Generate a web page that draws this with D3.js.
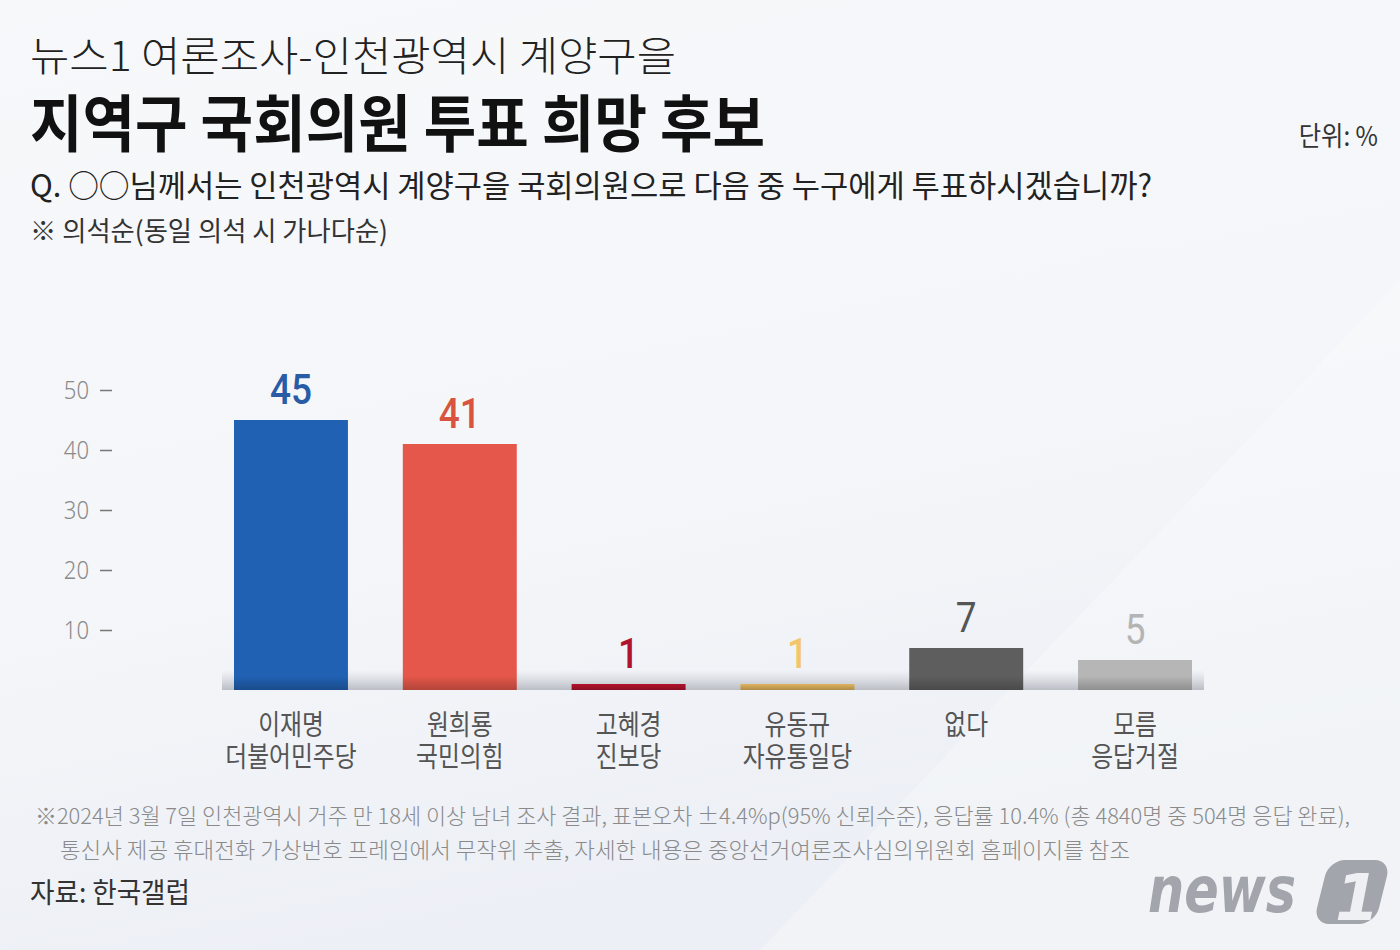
<!DOCTYPE html>
<html>
<head>
<meta charset="utf-8">
<script src="https://cdn.jsdelivr.net/npm/d3@7"></script>
<style>
  body { margin: 0; background: #f6f7fa; }
  svg { display: block; font-family: "Noto Sans CJK KR", "Noto Sans", sans-serif; }
</style>
</head>
<body>
<svg id="chart"></svg>
<script>
const names = ["이재명", "원희룡", "고혜경", "유동규", "없다", "모름"];
const parties = ["더불어민주당", "국민의힘", "진보당", "자유통일당", "", "응답거절"];
const values = [45, 41, 1, 1, 7, 5];
const barColors = ["#2161b3", "#e5574a", "#b1122b", "#e0b35c", "#5e5e5e", "#b6b6b6"];
const labelColors = ["#2a5ca6", "#d8543f", "#b0142c", "#f3c66c", "#555555", "#b4b4b4"];
const yTicks = [10, 20, 30, 40, 50];

const width = 1400;
const height = 950;
const margin = { top: 390, right: 208, bottom: 260, left: 234 };

const svg = d3.select("#chart").attr("width", width).attr("height", height);

// shrink a text to a given share of its natural width (the original uses a narrow face)
const condense = (sel, k) =>
  sel.each(function () {
    const len = this.getComputedTextLength();
    if (len > 0) d3.select(this).attr("textLength", len * k).attr("lengthAdjust", "spacingAndGlyphs");
  });

// background
const defs = svg.append("defs");
const bg = defs.append("linearGradient").attr("id", "bg").attr("x1", 0).attr("y1", 0).attr("x2", 0.3).attr("y2", 1);
bg.append("stop").attr("offset", "0%").attr("stop-color", "#f7f8fa");
bg.append("stop").attr("offset", "60%").attr("stop-color", "#f4f6f9");
bg.append("stop").attr("offset", "100%").attr("stop-color", "#eceff5");
svg.append("rect").attr("width", width).attr("height", height).attr("fill", "url(#bg)");
svg.append("path")
  .attr("d", "M1400,280 L1400,950 L760,950 Z")
  .attr("fill", "#ffffff").attr("opacity", 0.25);

const shade = defs.append("linearGradient").attr("id", "shade").attr("x1", 0).attr("y1", 0).attr("x2", 0).attr("y2", 1);
shade.append("stop").attr("offset", "0%").attr("stop-color", "#d4d7dc").attr("stop-opacity", 0);
shade.append("stop").attr("offset", "70%").attr("stop-color", "#c9ccd2").attr("stop-opacity", 0.9);
shade.append("stop").attr("offset", "100%").attr("stop-color", "#b9bdc4").attr("stop-opacity", 1);

const barShade = defs.append("linearGradient").attr("id", "barShade").attr("x1", 0).attr("y1", 0).attr("x2", 0).attr("y2", 1);
barShade.append("stop").attr("offset", "0%").attr("stop-color", "#000").attr("stop-opacity", 0);
barShade.append("stop").attr("offset", "100%").attr("stop-color", "#000").attr("stop-opacity", 0.22);

// titles
svg.append("text").attr("x", 30).attr("y", 71)
  .attr("font-size", 41).attr("font-weight", 300).attr("fill", "#222")
  .attr("textLength", 646).attr("lengthAdjust", "spacingAndGlyphs")
  .text("뉴스1 여론조사-인천광역시 계양구을");

svg.append("text").attr("x", 30).attr("y", 147)
  .attr("font-size", 62).attr("font-weight", 700).attr("fill", "#111")
  .attr("textLength", 735).attr("lengthAdjust", "spacingAndGlyphs")
  .text("지역구 국회의원 투표 희망 후보");

svg.append("text").attr("x", 1378).attr("y", 146)
  .attr("font-size", 27).attr("font-weight", 400).attr("fill", "#333")
  .attr("text-anchor", "end")
  .text("단위: %")
  .call(condense, 0.9);

svg.append("text").attr("x", 30).attr("y", 197)
  .attr("font-size", 31).attr("font-weight", 400).attr("fill", "#222")
  .attr("textLength", 1122).attr("lengthAdjust", "spacingAndGlyphs")
  .text("Q. ○○님께서는 인천광역시 계양구을 국회의원으로 다음 중 누구에게 투표하시겠습니까?");

svg.append("text").attr("x", 30).attr("y", 241)
  .attr("font-size", 27).attr("font-weight", 400).attr("fill", "#333")
  .attr("textLength", 358).attr("lengthAdjust", "spacingAndGlyphs")
  .text("※ 의석순(동일 의석 시 가나다순)");

// scales
const x = d3.scaleBand()
  .domain(names)
  .range([margin.left, width - margin.right])
  .paddingInner(0.325)
  .paddingOuter(0);

const y = d3.scaleLinear()
  .domain([0, 50])
  .range([height - margin.bottom, margin.top]);

// y axis
const yAxis = svg.append("g")
  .attr("transform", "translate(112,0)")
  .call(d3.axisLeft(y).tickValues(yTicks).tickSize(12).tickPadding(11));
yAxis.select(".domain").remove();
yAxis.selectAll(".tick line").attr("stroke", "#777").attr("stroke-width", 1.5);
yAxis.selectAll(".tick text")
  .attr("fill", "#8a8a8a").attr("font-size", 26).attr("font-weight", 300)
  .attr("font-family", "'Noto Sans', sans-serif")
  .call(condense, 0.85);

// floor shadow behind the bars
const base = y(0);
svg.append("rect")
  .attr("x", x(names[0]) - 12)
  .attr("y", base - 20)
  .attr("width", x(names[names.length - 1]) + x.bandwidth() + 12 - (x(names[0]) - 12))
  .attr("height", 20)
  .attr("fill", "url(#shade)");

// bars
const bars = svg.append("g")
  .selectAll("g.bar")
  .data(values)
  .join("g")
  .attr("class", "bar");

bars.append("rect")
  .attr("x", (d, i) => x(names[i]))
  .attr("y", (d) => y(d))
  .attr("width", x.bandwidth())
  .attr("height", (d) => base - y(d))
  .attr("fill", (d, i) => barColors[i]);

bars.append("rect")
  .attr("x", (d, i) => x(names[i]))
  .attr("y", (d) => Math.max(y(d), base - 14))
  .attr("width", x.bandwidth())
  .attr("height", (d) => Math.min(base - y(d), 14))
  .attr("fill", "url(#barShade)");

// value labels
bars.append("text")
  .attr("x", (d, i) => x(names[i]) + x.bandwidth() / 2)
  .attr("y", (d) => y(d) - 16)
  .attr("text-anchor", "middle")
  .attr("font-family", "Roboto, 'Noto Sans', sans-serif")
  .attr("font-size", 42)
  .attr("font-weight", (d, i) => (i < 4 ? 500 : 400))
  .attr("fill", (d, i) => labelColors[i])
  .text((d) => d)
  .call(condense, 0.88);

// category labels, two lines
const labels = svg.append("g");
labels.selectAll("text.name")
  .data(names)
  .join("text")
  .attr("class", "name")
  .attr("x", (d) => x(d) + x.bandwidth() / 2)
  .attr("y", 735)
  .attr("text-anchor", "middle")
  .attr("font-size", 28)
  .attr("fill", "#555")
  .text((d) => d)
  .call(condense, 0.85);

labels.selectAll("text.party")
  .data(parties.map((p, i) => ({ p, name: names[i] })).filter((d) => d.p))
  .join("text")
  .attr("class", "party")
  .attr("x", (d) => x(d.name) + x.bandwidth() / 2)
  .attr("y", 767)
  .attr("text-anchor", "middle")
  .attr("font-size", 28)
  .attr("fill", "#555")
  .text((d) => d.p)
  .call(condense, 0.85);

// footnote
svg.append("text").attr("x", 35).attr("y", 824)
  .attr("font-size", 22).attr("fill", "#8a8a8a").attr("font-weight", 300)
  .attr("textLength", 1315).attr("lengthAdjust", "spacingAndGlyphs")
  .text("※2024년 3월 7일 인천광역시 거주 만 18세 이상 남녀 조사 결과, 표본오차 ±4.4%p(95% 신뢰수준), 응답률 10.4% (총 4840명 중 504명 응답 완료),");

svg.append("text").attr("x", 60).attr("y", 858)
  .attr("font-size", 22).attr("fill", "#8a8a8a").attr("font-weight", 300)
  .attr("textLength", 1070).attr("lengthAdjust", "spacingAndGlyphs")
  .text("통신사 제공 휴대전화 가상번호 프레임에서 무작위 추출, 자세한 내용은 중앙선거여론조사심의위원회 홈페이지를 참조");

svg.append("text").attr("x", 30).attr("y", 903)
  .attr("font-size", 28).attr("fill", "#333")
  .attr("textLength", 160).attr("lengthAdjust", "spacingAndGlyphs")
  .text("자료: 한국갤럽");

// news1 logo
const logo = svg.append("g").attr("transform", "translate(1148,912)");
logo.append("text")
  .attr("x", 0).attr("y", 0)
  .attr("font-family", "'DejaVu Sans', sans-serif")
  .attr("font-size", 64).attr("font-weight", 700).attr("font-style", "italic")
  .attr("fill", "#a2a5ab")
  .attr("textLength", 148).attr("lengthAdjust", "spacingAndGlyphs")
  .text("news");
logo.append("rect")
  .attr("x", 168).attr("y", -52).attr("width", 62).attr("height", 64).attr("rx", 16)
  .attr("transform", "skewX(-14)")
  .attr("fill", "#a2a5ab");
logo.append("text")
  .attr("x", 187).attr("y", 8)
  .attr("font-family", "'DejaVu Sans', sans-serif")
  .attr("font-size", 64).attr("font-weight", 700).attr("font-style", "italic")
  .attr("fill", "#eef0f4")
  .text("1");
</script>
</body>
</html>
